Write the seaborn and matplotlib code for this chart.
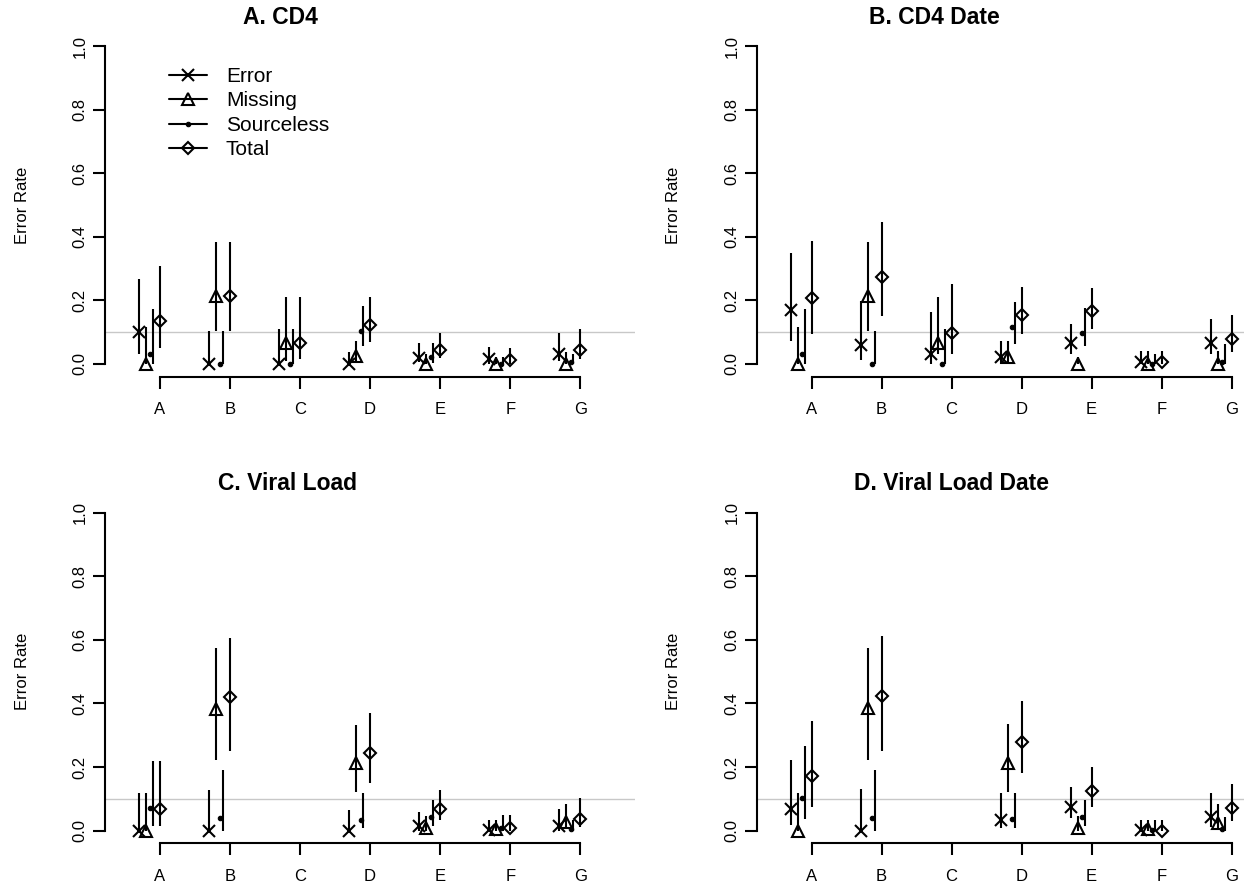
import numpy as np
import pandas as pd
import seaborn as sns
import matplotlib.pyplot as plt
from matplotlib.lines import Line2D

sns.set_theme(style="ticks")
plt.rcParams['font.family'] = ['Liberation Sans', 'DejaVu Sans']
plt.rcParams['text.color'] = 'black'

nan = np.nan
SITES = ["A", "B", "C", "D", "E", "F", "G"]
SERIES = ["Error", "Missing", "Sourceless", "Total"]

# A. CD4
cd4_error_est = [0.100, 0.000, 0.000, 0.000, 0.019, 0.014, 0.032]
cd4_error_lo = [0.032, 0.000, 0.000, 0.000, 0.005, 0.000, 0.009]
cd4_error_hi = [0.266, 0.104, 0.110, 0.037, 0.064, 0.053, 0.096]
cd4_missing_est = [0.000, 0.215, 0.066, 0.023, 0.000, 0.000, 0.000]
cd4_missing_lo = [0.000, 0.104, 0.008, 0.003, 0.000, 0.000, 0.000]
cd4_missing_hi = [0.117, 0.383, 0.209, 0.072, 0.030, 0.020, 0.037]
cd4_source_est = [0.032, 0.000, 0.000, 0.104, 0.021, 0.000, 0.005]
cd4_source_lo = [0.000, 0.000, 0.000, 0.055, 0.003, 0.000, 0.000]
cd4_source_hi = [0.172, 0.104, 0.110, 0.183, 0.064, 0.020, 0.030]
cd4_total_est = [0.136, 0.213, 0.064, 0.123, 0.043, 0.013, 0.043]
cd4_total_lo = [0.051, 0.104, 0.014, 0.068, 0.017, 0.000, 0.015]
cd4_total_hi = [0.309, 0.383, 0.209, 0.209, 0.096, 0.051, 0.110]

# B. CD4 Date
cd4d_error_est = [0.170, 0.059, 0.030, 0.021, 0.066, 0.005, 0.064]
cd4d_error_lo = [0.072, 0.013, 0.000, 0.000, 0.032, 0.000, 0.030]
cd4d_error_hi = [0.349, 0.197, 0.163, 0.072, 0.126, 0.040, 0.140]
cd4d_missing_est = [0.000, 0.215, 0.066, 0.021, 0.000, 0.000, 0.000]
cd4d_missing_lo = [0.000, 0.104, 0.032, 0.000, 0.000, 0.000, 0.000]
cd4d_missing_hi = [0.117, 0.383, 0.209, 0.072, 0.020, 0.040, 0.040]
cd4d_source_est = [0.032, 0.000, 0.000, 0.115, 0.096, 0.000, 0.005]
cd4d_source_lo = [0.000, 0.000, 0.000, 0.062, 0.055, 0.000, 0.000]
cd4d_source_hi = [0.172, 0.104, 0.110, 0.194, 0.176, 0.030, 0.062]
cd4d_total_est = [0.207, 0.273, 0.096, 0.154, 0.165, 0.005, 0.078]
cd4d_total_lo = [0.094, 0.149, 0.030, 0.094, 0.111, 0.000, 0.036]
cd4d_total_hi = [0.388, 0.447, 0.251, 0.243, 0.239, 0.040, 0.154]

# C. Viral Load (site C has no data)
vl_error_est = [0.000, 0.000, nan, 0.000, 0.016, 0.002, 0.016]
vl_error_lo = [0.000, 0.000, nan, 0.000, 0.000, 0.000, 0.000]
vl_error_hi = [0.117, 0.129, nan, 0.065, 0.059, 0.035, 0.067]
vl_missing_est = [0.000, 0.384, nan, 0.214, 0.010, 0.006, 0.028]
vl_missing_lo = [0.000, 0.221, nan, 0.122, 0.000, 0.000, 0.007]
vl_missing_hi = [0.117, 0.573, nan, 0.332, 0.046, 0.035, 0.083]
vl_source_est = [0.070, 0.039, nan, 0.035, 0.042, 0.008, 0.004]
vl_source_lo = [0.016, 0.000, nan, 0.007, 0.016, 0.000, 0.000]
vl_source_hi = [0.219, 0.190, nan, 0.120, 0.096, 0.050, 0.035]
vl_total_est = [0.069, 0.421, nan, 0.244, 0.067, 0.010, 0.038]
vl_total_lo = [0.016, 0.250, nan, 0.150, 0.033, 0.000, 0.012]
vl_total_hi = [0.219, 0.606, nan, 0.369, 0.127, 0.050, 0.102]

# D. Viral Load Date
vld_error_est = [0.067, 0.000, nan, 0.034, 0.075, 0.002, 0.044]
vld_error_lo = [0.018, 0.000, nan, 0.007, 0.039, 0.000, 0.013]
vld_error_hi = [0.222, 0.130, nan, 0.119, 0.138, 0.034, 0.117]
vld_missing_est = [0.000, 0.386, nan, 0.214, 0.010, 0.004, 0.023]
vld_missing_lo = [0.000, 0.222, nan, 0.122, 0.000, 0.000, 0.007]
vld_missing_hi = [0.117, 0.576, nan, 0.334, 0.046, 0.034, 0.083]
vld_source_est = [0.103, 0.039, nan, 0.036, 0.042, 0.002, 0.004]
vld_source_lo = [0.036, 0.000, nan, 0.007, 0.016, 0.000, 0.000]
vld_source_hi = [0.266, 0.190, nan, 0.119, 0.096, 0.034, 0.044]
vld_total_est = [0.172, 0.423, nan, 0.280, 0.126, 0.000, 0.070]
vld_total_lo = [0.073, 0.251, nan, 0.180, 0.075, 0.000, 0.031]
vld_total_hi = [0.346, 0.611, nan, 0.408, 0.199, 0.034, 0.147]

PANELS = [
	("A. CD4", [(cd4_error_est, cd4_error_lo, cd4_error_hi),
	            (cd4_missing_est, cd4_missing_lo, cd4_missing_hi),
	            (cd4_source_est, cd4_source_lo, cd4_source_hi),
	            (cd4_total_est, cd4_total_lo, cd4_total_hi)]),
	("B. CD4 Date", [(cd4d_error_est, cd4d_error_lo, cd4d_error_hi),
	                 (cd4d_missing_est, cd4d_missing_lo, cd4d_missing_hi),
	                 (cd4d_source_est, cd4d_source_lo, cd4d_source_hi),
	                 (cd4d_total_est, cd4d_total_lo, cd4d_total_hi)]),
	("C. Viral Load", [(vl_error_est, vl_error_lo, vl_error_hi),
	                   (vl_missing_est, vl_missing_lo, vl_missing_hi),
	                   (vl_source_est, vl_source_lo, vl_source_hi),
	                   (vl_total_est, vl_total_lo, vl_total_hi)]),
	("D. Viral Load Date", [(vld_error_est, vld_error_lo, vld_error_hi),
	                        (vld_missing_est, vld_missing_lo, vld_missing_hi),
	                        (vld_source_est, vld_source_lo, vld_source_hi),
	                        (vld_total_est, vld_total_lo, vld_total_hi)]),
]

# bar offset, point offset, marker style
STYLE = {
	"Error": (-0.3, -0.3, dict(marker='x', ms=8.5, mew=1.5)),
	"Missing": (-0.2, -0.2, dict(marker='^', ms=8.5, mew=1.5, mfc='none')),
	"Sourceless": (-0.1, -0.135, dict(marker='o', ms=3.2, mew=0.8, mfc='black')),
	"Total": (0.0, 0.0, dict(marker='D', ms=6.4, mew=1.5, mfc='none')),
}

W, H = 1244, 892
LW = 1.5


def make_frame(series_data):
	rows = []
	for name, (est, lo, hi) in zip(SERIES, series_data):
		for i, site in enumerate(SITES):
			rows.append(dict(series=name, site=site, pos=i + 1, est=est[i], lo=lo[i], hi=hi[i]))
	return pd.DataFrame(rows)


def draw_panel(fig, rect_px, xmax, title, title_x, df, ylabel_x):
	left, top, right, bottom = rect_px
	ax = fig.add_axes([left / W, 1 - bottom / H, (right - left) / W, (bottom - top) / H])
	ax.axhline(0.1, color='#c8c8c8', lw=1, zorder=0)
	for name in SERIES:
		bar_off, pt_off, mk = STYLE[name]
		d = df[df['series'] == name].dropna()
		ax.vlines(d['pos'] + bar_off, d['lo'], d['hi'], color='black', lw=LW, zorder=2)
		ax.plot(d['pos'] + pt_off, d['est'], linestyle='none', color='black', mec='black', zorder=3, **mk)
	ax.set_xlim(0.22, xmax)
	ax.set_ylim(-0.04, 1.04)
	ax.set_xticks(range(1, 8))
	ax.set_xticklabels(SITES)
	ax.set_yticks([0.0, 0.2, 0.4, 0.6, 0.8, 1.0])
	ax.set_yticklabels(['0.0', '0.2', '0.4', '0.6', '0.8', '1.0'])
	for s in ['top', 'right']:
		ax.spines[s].set_visible(False)
	ax.spines['left'].set_bounds(0, 1)
	ax.spines['bottom'].set_bounds(1, 7)
	for s in ['left', 'bottom']:
		ax.spines[s].set_color('black')
		ax.spines[s].set_linewidth(LW)
	ax.tick_params(axis='both', direction='out', length=8.5, width=LW, color='black',
	               labelsize=12, labelcolor='black', bottom=True, left=True)
	ax.tick_params(axis='x', pad=10)
	ax.tick_params(axis='y', pad=4, labelrotation=90)
	for t in ax.get_yticklabels():
		t.set_va('center')
	ax.set_xlabel('')
	ax.set_ylabel('Error Rate', fontsize=12, color='black')
	ax.yaxis.set_label_coords((ylabel_x - left) / (right - left), 0.5)
	ax.grid(False)
	ax.set_facecolor('white')
	fig.text(title_x / W, 1 - (top - 16) / H, title, ha='center', va='center',
	         fontsize=16.5, fontweight='bold', color='black')
	return ax


fig = plt.figure(figsize=(W / 100, H / 100), dpi=100)
fig.patch.set_facecolor('white')

rects = [
	((105, 33.5, 635, 376.5), 7.78, 280),
	((757, 33.5, 1244, 376.5), 0.22 + 487 / 70, 934),
	((105, 500, 635, 843.4), 7.78, 287),
	((757, 500, 1244, 843.4), 0.22 + 487 / 70, 951),
]

axes = []
for (title, series_data), (rect, xmax, tx), lx in zip(PANELS, rects, [30, 681, 30, 681]):
	df = make_frame(series_data)
	axes.append(draw_panel(fig, rect, xmax, title, tx, df, lx))

handles = []
for name in SERIES:
	_, _, mk = STYLE[name]
	handles.append(Line2D([0], [0], color='black', lw=LW, mec='black', **mk))
axes[0].legend(handles, SERIES, loc='upper left', bbox_to_anchor=(169 / W, 1 - 67 / H),
               bbox_transform=fig.transFigure, frameon=False, fontsize=15, labelcolor='black',
               handlelength=1.83, handletextpad=0.9, labelspacing=0.26,
               borderpad=0, borderaxespad=0)

fig.savefig('out.png', dpi=100)
